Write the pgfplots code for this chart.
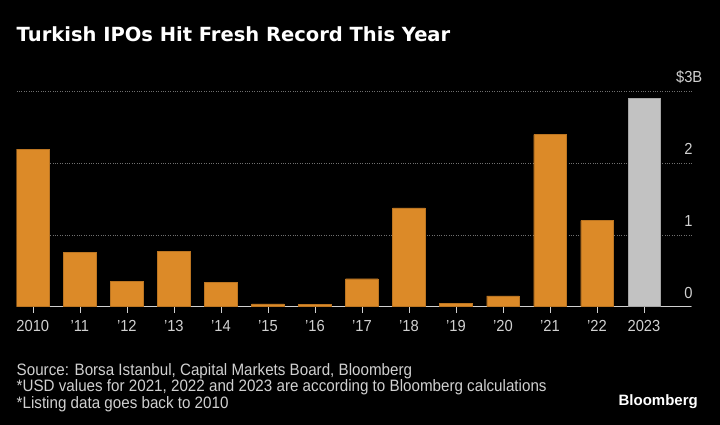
\documentclass[border=0pt]{standalone}
\usepackage{pgfplots}
\pgfplotsset{compat=1.18}
\usepackage{fontspec}
\setmainfont{Liberation Sans}[FakeStretch=0.92]
\newfontfamily\titlefont{DejaVu Sans}
\newfontfamily\logofont{Liberation Sans}
\definecolor{barorange}{HTML}{DC8A28}
\definecolor{bargray}{HTML}{C2C2C2}
\definecolor{txtgray}{HTML}{D0D0D0}
\definecolor{gridgray}{HTML}{707070}
\begin{document}
\begin{tikzpicture}
\fill[black] (0pt,0pt) rectangle (720pt,425pt);
\begin{axis}[
  at={(16.5pt,118.3pt)}, anchor=south west,
  scale only axis, width=674.5pt, height=215pt,
  xmin=-0.347, xmax=14.0, ymin=0, ymax=3,
  axis x line*=bottom, axis y line*=right,
  x axis line style={draw=txtgray, line width=0.8pt},
  y axis line style={draw=none},
  xtick={0,...,13},
  xticklabels={2010,'11,'12,'13,'14,'15,'16,'17,'18,'19,'20,'21,'22,2023},
  xtick align=outside, major tick length=6pt,
  xtick style={draw=txtgray, line width=0.6pt},
  xticklabel style={yshift=-4pt},
  ytick={0,1,2,3},
  yticklabels={0,1,2,\llap{\$}3\rlap{B}},
  ytick style={draw=none}, ytick align=inside,
  yticklabel style={anchor=south east, xshift=5pt, yshift=5pt},
  ticklabel style={text=txtgray, font=\fontsize{16}{19}\selectfont},
  /pgf/number format/assume math mode=true,
  ymajorgrids, grid style={gridgray, dotted, line width=0.8pt},
]
\addplot[ybar, bar width=32.5pt, bar shift=0pt, fill=barorange, draw=barorange!85!black]
  coordinates {(0,2.20) (1,0.76) (2,0.35) (3,0.77) (4,0.335) (5,0.04) (6,0.035)
               (7,0.39) (8,1.38) (9,0.05) (10,0.15) (11,2.40) (12,1.20)};
\addplot[ybar, bar width=32.5pt, bar shift=0pt, fill=bargray, draw=bargray!85!black]
  coordinates {(13,2.91)};
\end{axis}
\node[anchor=base west, inner sep=0, text=white, font=\titlefont\bfseries\fontsize{19.5}{23}\selectfont] at (16.5pt,383pt) {Turkish IPOs Hit Fresh Record This Year};
\node[anchor=base west, inner sep=0, text=txtgray, font=\fontsize{16.5}{19}\selectfont] at (16.5pt,49.5pt) {Source: Borsa Istanbul, Capital Markets Board, Bloomberg};
\node[anchor=base west, inner sep=0, text=txtgray, font=\fontsize{16.5}{19}\selectfont] at (16.5pt,33pt) {*USD values for 2021, 2022 and 2023 are according to Bloomberg calculations};
\node[anchor=base west, inner sep=0, text=txtgray, font=\fontsize{16.5}{19}\selectfont] at (16.5pt,16.5pt) {*Listing data goes back to 2010};
\node[anchor=base east, inner sep=0, text=white, font=\logofont\bfseries\fontsize{15}{18}\selectfont] at (698pt,19.5pt) {Bloomberg};
\end{tikzpicture}
\end{document}
